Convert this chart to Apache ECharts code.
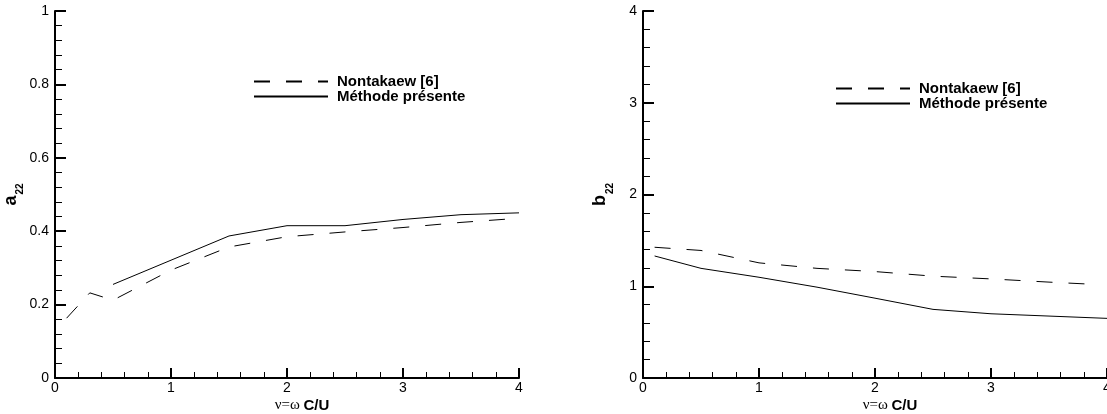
<!DOCTYPE html>
<html>
<head>
<meta charset="utf-8">
<script src="https://cdn.jsdelivr.net/npm/echarts@6/dist/echarts.min.js"></script>
<style>
  html, body { margin: 0; padding: 0; background: #fff; overflow: hidden; }
  #chart { width: 1107px; height: 414px; }
</style>
</head>
<body>
<div id="chart"></div>
<script>
// Reduced frequency v = wC/U
const nuNontA = [0.1, 0.3, 0.5, 1.0, 1.5, 2.0, 2.5, 3.0, 3.5, 3.9];
const a22Nont = [0.163, 0.232, 0.212, 0.294, 0.357, 0.385, 0.398, 0.410, 0.424, 0.433];
const nuPresA = [0.5, 1.5, 2.0, 2.5, 3.0, 3.5, 4.0];
const a22Pres = [0.255, 0.387, 0.415, 0.415, 0.432, 0.445, 0.450];

const nuNontB = [0.1, 0.5, 1.0, 1.5, 2.0, 2.5, 3.0, 3.5, 3.9];
const b22Nont = [1.425, 1.39, 1.255, 1.195, 1.16, 1.11, 1.08, 1.045, 1.02];
const nuPresB = [0.1, 0.5, 1.0, 1.5, 2.0, 2.5, 3.0, 3.5, 4.0];
const b22Pres = [1.33, 1.195, 1.098, 0.99, 0.87, 0.748, 0.70, 0.675, 0.65];

const NAME_NONT = 'Nontakaew [6]';
const NAME_PRES = 'Méthode présente';

const pairs = (xs, ys) => xs.map((x, i) => [x, ys[i]]);

const SANS = '"Liberation Sans", Arial, Helvetica, sans-serif';
const SERIF = '"Liberation Serif", "Times New Roman", serif';

function xAxisFor(gridIndex) {
  return {
    type: 'value', gridIndex, min: 0, max: 4, interval: 1,
    name: '{g|ν=ω }{b|C/U}',
    nameLocation: 'middle', nameGap: 20, nameMoveOverlap: false,
    nameTextStyle: {
      padding: [0, 0, 0, 30],
      rich: {
        g: { fontFamily: SERIF, fontSize: 15, color: '#000' },
        b: { fontFamily: SANS, fontSize: 15, fontWeight: 'bold', color: '#000' }
      }
    },
    axisLine: { show: true, onZero: false, lineStyle: { color: '#000', width: 2 } },
    axisTick: { show: true, inside: true, length: 10, lineStyle: { color: '#000', width: 2 } },
    minorTick: { show: true, splitNumber: 5, length: 6, lineStyle: { color: '#000', width: 1 } },
    axisLabel: { color: '#000', fontFamily: SANS, fontSize: 14, margin: 3, showMaxLabel: true, hideOverlap: false },
    splitLine: { show: false }
  };
}

function yAxisFor(gridIndex, max, interval, letter, labelFmt) {
  return {
    type: 'value', gridIndex, min: 0, max, interval,
    name: '{m|' + letter + '}{s|22}',
    nameLocation: 'middle', nameGap: 28, nameRotate: 90,
    nameTextStyle: {
      rich: {
        m: { fontFamily: SANS, fontSize: 18, fontWeight: 'bold', color: '#000' },
        s: { fontFamily: SANS, fontSize: 10, fontWeight: 'bold', color: '#000', padding: [20, 0, 0, 1] }
      }
    },
    axisLine: { show: true, onZero: false, lineStyle: { color: '#000', width: 2 } },
    axisTick: { show: true, inside: true, length: 11, lineStyle: { color: '#000', width: 2 } },
    minorTick: { show: true, splitNumber: 5, length: 7, lineStyle: { color: '#000', width: 1 } },
    axisLabel: { color: '#000', fontFamily: SANS, fontSize: 14, margin: 6, formatter: labelFmt },
    splitLine: { show: false }
  };
}

function lineSeries(name, xIdx, data, dashed) {
  return {
    name, type: 'line', xAxisIndex: xIdx, yAxisIndex: xIdx,
    data, symbol: 'none', showSymbol: false, silent: true, animation: false,
    lineStyle: { color: '#000', width: 1, type: dashed ? [16, 16] : 'solid' },
    itemStyle: { color: '#000' },
    clip: false
  };
}

function legendAt(left, top) {
  return {
    orient: 'vertical', left, top,
    itemWidth: 74, itemHeight: 14, itemGap: 0,
    selectedMode: false,
    data: [NAME_NONT, NAME_PRES],
    itemStyle: { opacity: 0 },
    textStyle: {
      color: '#000', fontFamily: SANS, fontSize: 15, fontWeight: 'bold',
      padding: [0, 0, 0, 4]
    }
  };
}

const chart = echarts.init(document.getElementById('chart'), null, { renderer: 'canvas' });
chart.setOption({
  backgroundColor: '#fff',
  animation: false,
  grid: [
    { left: 55, top: 11, width: 464, height: 367, containLabel: false, outerBoundsMode: 'none' },
    { left: 643, top: 11, width: 464, height: 367, containLabel: false, outerBoundsMode: 'none' }
  ],
  legend: [legendAt(248, 69), legendAt(830, 76)],
  xAxis: [xAxisFor(0), xAxisFor(1)],
  yAxis: [
    yAxisFor(0, 1, 0.2, 'a', v => (v === 0 || v === 1) ? String(v) : v.toFixed(1)),
    yAxisFor(1, 4, 1, 'b', v => String(v))
  ],
  series: [
    lineSeries(NAME_NONT, 0, pairs(nuNontA, a22Nont), true),
    lineSeries(NAME_PRES, 0, pairs(nuPresA, a22Pres), false),
    lineSeries(NAME_NONT, 1, pairs(nuNontB, b22Nont), true),
    lineSeries(NAME_PRES, 1, pairs(nuPresB, b22Pres), false)
  ]
});
</script>
</body>
</html>
